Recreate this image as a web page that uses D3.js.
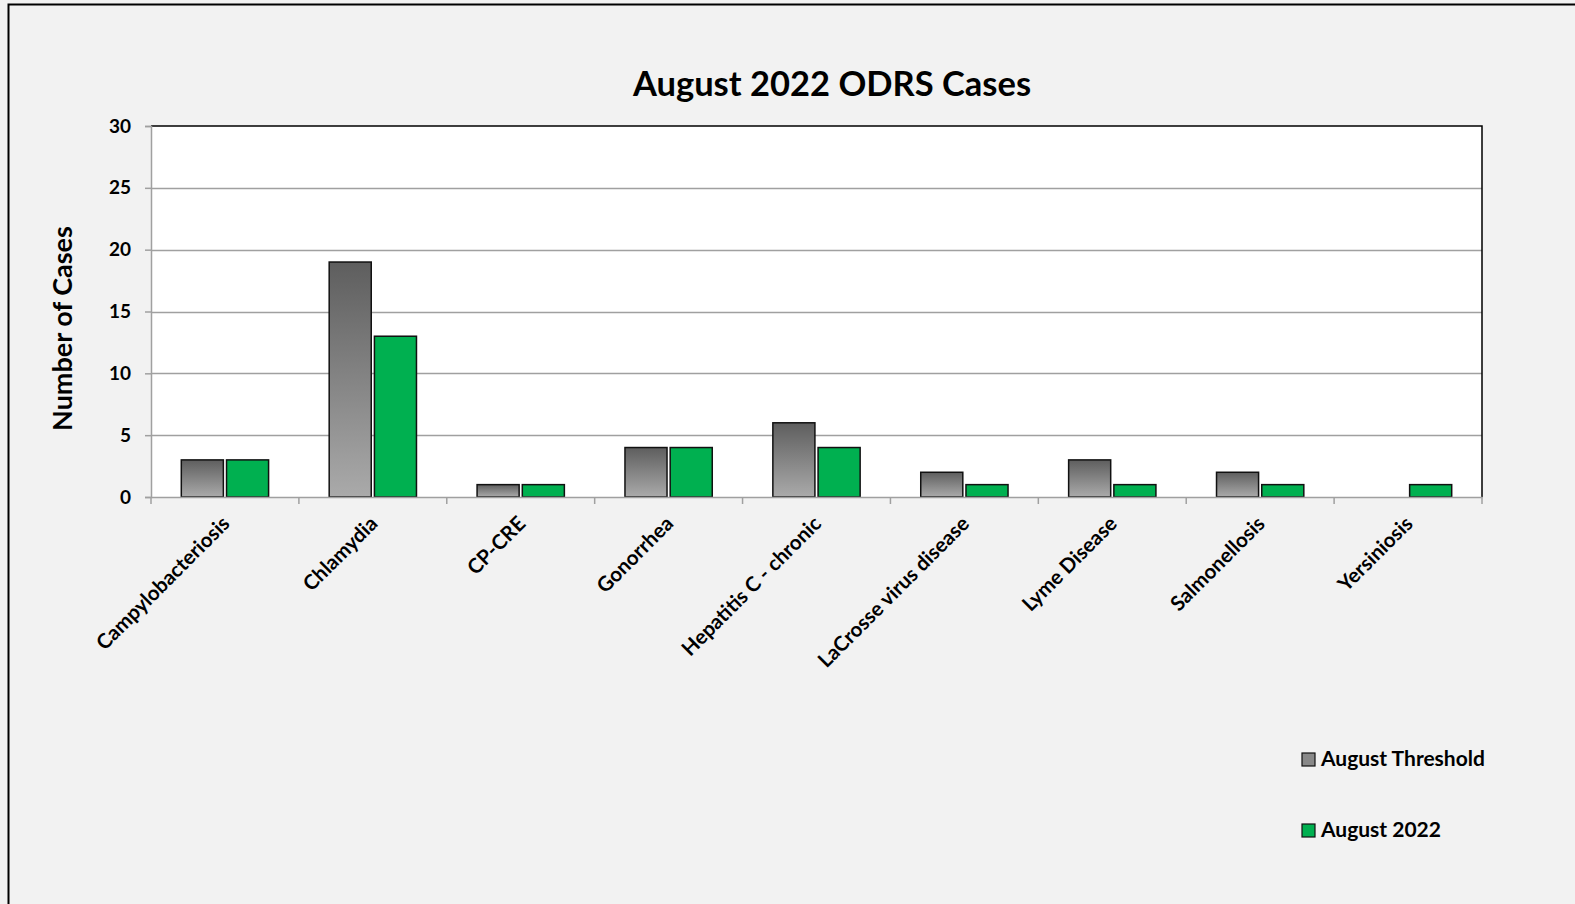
<!DOCTYPE html>
<html>
<head>
<meta charset="utf-8">
<script src="https://cdn.jsdelivr.net/npm/d3@7"></script>
<style>
  body { margin: 0; background: #f2f2f2; }
  svg { display: block; font-family: Lato, 'Open Sans', sans-serif; font-weight: bold; }
</style>
</head>
<body>
<div class="display"></div>
<script>
const categories = ['Campylobacteriosis', 'Chlamydia', 'CP-CRE', 'Gonorrhea', 'Hepatitis C - chronic',
    'LaCrosse virus disease', 'Lyme Disease', 'Salmonellosis', 'Yersiniosis'];
const thresholdValues = [3, 19, 1, 4, 6, 2, 3, 2, 0];
const augustValues = [3, 13, 1, 4, 4, 1, 1, 1, 1];
const seriesNames = ['August Threshold', 'August 2022'];
const yTicks = [0, 5, 10, 15, 20, 25, 30];

const width = 1575;
const height = 904;
const plot = { left: 151, right: 1482, top: 126, bottom: 497 };

const svg = d3.select('.display')
    .append('svg')
    .attr('width', width)
    .attr('height', height);

const defs = svg.append('defs');
const grad = defs.append('linearGradient')
    .attr('id', 'grayGrad')
    .attr('x1', 0).attr('y1', 0).attr('x2', 0).attr('y2', 1);
grad.append('stop').attr('offset', '0%').attr('stop-color', '#5e5e5e');
grad.append('stop').attr('offset', '100%').attr('stop-color', '#aaaaaa');

const colors = ['url(#grayGrad)', '#00b050'];

// outer frame
svg.append('rect')
    .attr('x', 8.5).attr('y', 4.5)
    .attr('width', width).attr('height', height)
    .attr('fill', '#f2f2f2')
    .attr('stroke', '#000')
    .attr('stroke-width', 2);

svg.append('rect')
    .attr('x', plot.left).attr('y', plot.top)
    .attr('width', plot.right - plot.left).attr('height', plot.bottom - plot.top)
    .attr('fill', '#fff');

const xScale = d3.scaleBand()
    .domain(categories)
    .range([plot.left, plot.right]);

const xInner = d3.scaleBand()
    .domain(seriesNames)
    .range([0, xScale.bandwidth()])
    .paddingInner(0.07)
    .paddingOuter(0.67);

const yScale = d3.scaleLinear()
    .domain([0, 30])
    .range([plot.bottom, plot.top]);

// gridlines
svg.append('g')
    .selectAll('line')
    .data(yTicks.filter(d => d > 0 && d < 30))
    .enter()
    .append('line')
    .attr('x1', plot.left).attr('x2', plot.right)
    .attr('y1', d => Math.round(yScale(d)) + 0.5)
    .attr('y2', d => Math.round(yScale(d)) + 0.5)
    .attr('stroke', '#a0a0a0')
    .attr('stroke-width', 1.5);

// top and right border
svg.append('path')
    .attr('d', `M${plot.left},${plot.top}H${plot.right}V${plot.bottom}`)
    .attr('fill', 'none')
    .attr('stroke', '#000')
    .attr('stroke-width', 1.5);

// bars
const series = [thresholdValues, augustValues];
const groups = svg.append('g')
    .selectAll('g')
    .data(series)
    .enter()
    .append('g')
    .attr('fill', (_, i) => colors[i]);

groups.selectAll('rect')
    .data((vals, si) => vals.map((v, ci) => ({ v, c: categories[ci], s: seriesNames[si] })))
    .enter()
    .filter(d => d.v > 0)
    .append('rect')
    .attr('x', d => xScale(d.c) + xInner(d.s))
    .attr('y', d => yScale(d.v))
    .attr('width', xInner.bandwidth())
    .attr('height', d => plot.bottom - yScale(d.v))
    .attr('stroke', '#111')
    .attr('stroke-width', 1.5);

// y axis
const yAxis = d3.axisLeft(yScale)
    .tickValues(yTicks)
    .tickSize(6)
    .tickPadding(14);

const yG = svg.append('g')
    .attr('transform', `translate(${plot.left}, 0)`)
    .call(yAxis);
yG.select('.domain').attr('stroke', '#a0a0a0').attr('stroke-width', 1.5);
yG.selectAll('.tick line').attr('stroke', '#a0a0a0').attr('stroke-width', 1.5);
yG.selectAll('.tick text')
    .attr('fill', '#000')
    .style('font-size', '19px')
    .style('font-family', 'Lato, sans-serif')
    .style('font-weight', 'bold');

// x axis
const xAxis = d3.axisBottom(xScale).tickSize(0).tickFormat('');
const xG = svg.append('g')
    .attr('transform', `translate(0, ${plot.bottom})`)
    .call(xAxis);
xG.select('.domain').attr('stroke', '#a0a0a0').attr('stroke-width', 1.5);

xG.selectAll('.sep')
    .data(categories.concat(['end']))
    .enter()
    .append('line')
    .attr('class', 'sep')
    .attr('x1', (d, i) => i < categories.length ? xScale(d) : plot.right)
    .attr('x2', (d, i) => i < categories.length ? xScale(d) : plot.right)
    .attr('y1', 0).attr('y2', 7)
    .attr('stroke', '#a0a0a0')
    .attr('stroke-width', 1.5);

svg.append('g')
    .selectAll('text')
    .data(categories)
    .enter()
    .append('text')
    .attr('transform', d => `translate(${xScale(d) + xScale.bandwidth() / 2 + 6}, ${plot.bottom + 28}) rotate(-45)`)
    .attr('text-anchor', 'end')
    .style('font-size', '20.5px')
    .attr('fill', '#000')
    .text(d => d);

// title
svg.append('text')
    .attr('x', 832)
    .attr('y', 96)
    .attr('text-anchor', 'middle')
    .style('font-size', '34.5px')
    .attr('fill', '#000')
    .text('August 2022 ODRS Cases');

// y axis title
svg.append('text')
    .attr('transform', `translate(72, ${(plot.top + plot.bottom) / 2 + 17}) rotate(-90)`)
    .attr('text-anchor', 'middle')
    .style('font-size', '27px')
    .attr('fill', '#000')
    .text('Number of Cases');

// legend
const legend = svg.append('g')
    .selectAll('g')
    .data(seriesNames)
    .enter()
    .append('g')
    .attr('transform', (_, i) => `translate(1302, ${753 + i * 71})`);

legend.append('rect')
    .attr('width', 13).attr('height', 13)
    .attr('fill', (_, i) => i === 0 ? '#888' : '#00b050')
    .attr('stroke', '#111')
    .attr('stroke-width', 1.2);

legend.append('text')
    .attr('x', 19)
    .attr('y', 13)
    .style('font-size', '21px')
    .attr('fill', '#000')
    .text(d => d);
</script>
</body>
</html>
